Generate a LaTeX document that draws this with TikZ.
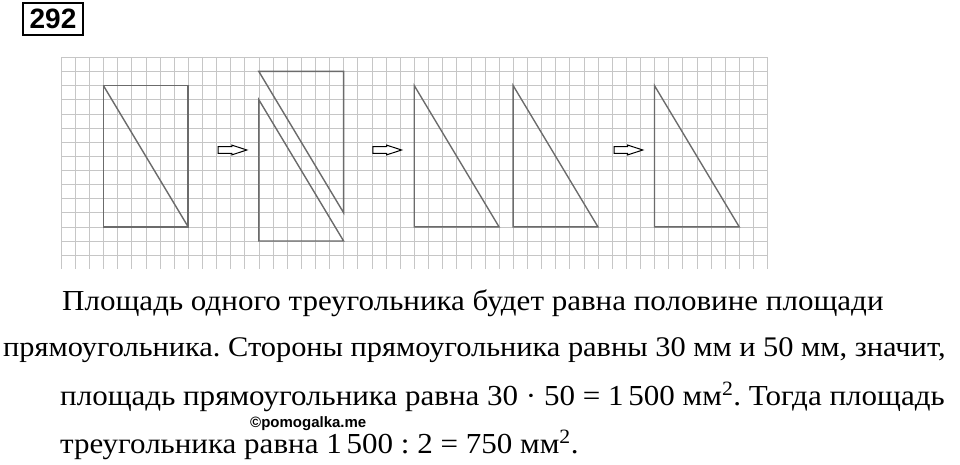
\documentclass[tikz,border=0pt]{standalone}
\usepackage{fontspec}
\setmainfont[FakeStretch=1.07]{Liberation Serif}
\newfontfamily\wmfont{Liberation Sans}
\usetikzlibrary{shapes.arrows}

\tikzset{
  gridline/.style={draw=gray!45,line width=0.55pt},
  figline/.style={draw=black!58,line width=1.4pt,line join=miter},
  outarrow/.style={single arrow,draw,fill=white,line width=1pt,inner sep=0pt,
    minimum height=28.7pt,single arrow head extend=1.6pt,
    single arrow tip angle=36,single arrow head indent=0pt,inner ysep=2.8pt},
  txt/.style={anchor=base west,inner sep=0pt,font=\fontsize{29}{29}\selectfont}
}

\begin{document}
\frenchspacing
\begin{tikzpicture}[x=1pt,y=-1pt]
\useasboundingbox (0,0) rectangle (960,464);
% number of the exercise
\node[draw,line width=1.8pt,inner sep=0pt,minimum width=60pt,minimum height=32pt,
  font=\wmfont\bfseries\fontsize{28}{28}\selectfont] (num) at (53,19) {292};
% squared paper with the figures
\begin{scope}[shift={(61,57.3)},x=14.13pt,y=-14.13pt]
\foreach \i in {0,...,50}
  \draw[gridline] (\i,0) -- (\i,15);
\foreach \j in {0,...,14}
  \draw[gridline] (0,\j) -- (50,\j);
% rectangle and its diagonal
\draw[figline] (3,2) rectangle (9,12);
\draw[figline] (3,2) -- (9,12);
% cut in two
\draw[figline] (14,1) -- (20,1) -- (20,11) -- cycle;
\draw[figline] (14,3) -- (14,13) -- (20,13) -- cycle;
% two triangles
\draw[figline] (25,2) -- (25,12) -- (31,12) -- cycle;
\draw[figline] (32,2) -- (32,12) -- (38,12) -- cycle;
% one triangle
\draw[figline] (42,2) -- (42,12) -- (48,12) -- cycle;
\node[outarrow] (ar1) at (11.78,6.56) {};
\node[outarrow] (ar2) at (22.73,6.56) {};
\node[outarrow] (ar3) at (39.8,6.56) {};
\end{scope}
% solution text
\node[txt] (l1) at (62,310) {Площадь одного треугольника будет равна половине площади};
\node[txt,font=\fontsize{28.4}{29}\selectfont] (l2) at (3,356.7) {прямоугольника. Стороны прямоугольника равны 30 мм и 50 мм, значит,};
\node[txt] (l3) at (60,405) {площадь прямоугольника равна 30 · 50 = 1\,500 мм\textsuperscript{2}. Тогда площадь};
\node[txt] (l4) at (60,453) {треугольника равна 1\,500 : 2 = 750 мм\textsuperscript{2}.};
\node[anchor=base west,inner sep=0pt,font=\wmfont\bfseries\fontsize{15}{15}\selectfont] (wm) at (250,427) {©pomogalka.me};
\end{tikzpicture}
\end{document}
